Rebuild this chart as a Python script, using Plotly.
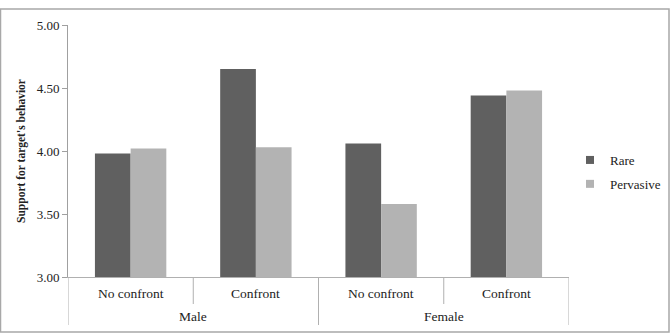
import plotly.graph_objects as go

genders = ["Male", "Male", "Female", "Female"]
conditions = ["No confront", "Confront", "No confront", "Confront"]
rare = [3.98, 4.65, 4.06, 4.44]
pervasive = [4.02, 4.03, 3.58, 4.48]
yticks = [3.0, 3.5, 4.0, 4.5, 5.0]
series_names = ["Rare", "Pervasive"]
series_colors = ["#606060", "#b3b3b3"]

font = "Liberation Serif"
txt = "#222222"
L, R, T, B = 68, 103, 25, 58
W, H = 672, 335
PW, PH = W - L - R, H - T - B

def py(pix):
    # convert a pixel row (from top of page) into paper y
    return (H - B - pix) / PH

fig = go.Figure()
for name, vals, col in zip(series_names, [rare, pervasive], series_colors):
    fig.add_trace(go.Bar(name=name, x=[genders, conditions], y=vals, showlegend=False,
                         marker=dict(color=col, line=dict(width=0))))
for name, col in zip(series_names, series_colors):
    fig.add_trace(go.Scatter(name=name, x=[genders[:1], conditions[:1]], y=[None],
                             mode="markers", legendgroup=name,
                             marker=dict(symbol="square", size=8, color=col)))

fig.update_layout(
    width=W, height=H,
    margin=dict(l=L, r=R, t=T, b=B, autoexpand=False),
    paper_bgcolor="white", plot_bgcolor="white",
    barmode="group", bargap=0.43, bargroupgap=0,
    font=dict(family=font, size=13, color=txt),
    showlegend=True,
    legend=dict(xref="container", yref="container", x=570 / W, y=1 - 145 / H,
                xanchor="left", yanchor="top",
                font=dict(family=font, size=13, color=txt),
                itemwidth=30, tracegroupgap=4),
    xaxis=dict(type="multicategory", range=[-0.5, len(conditions) - 0.5],
               showline=True, linecolor="#b0b0b0", linewidth=1,
               showdividers=False, showticklabels=False, ticks=""),
    yaxis=dict(range=[3.0, 5.0], tickvals=yticks, tickformat=".2f",
               showline=True, linecolor="#a0a0a0", linewidth=1,
               ticks="outside", ticklen=5, tickcolor="#a0a0a0",
               showgrid=False, zeroline=False,
               tickfont=dict(family=font, size=13, color=txt),
               title=dict(text="<b>Support for target's behavior</b>",
                          font=dict(family=font, size=11.5, color=txt), standoff=8)),
)

# category labels (inner level) and group labels (outer level)
for i, c in enumerate(conditions):
    fig.add_annotation(x=i, xref="x", y=py(293), yref="paper", text=c, showarrow=False,
                       font=dict(family=font, size=13.5, color=txt), yanchor="middle")
groups = []
for i, g in enumerate(genders):
    if g not in [gg for gg, _ in groups]:
        groups.append((g, [i]))
    else:
        groups[[gg for gg, _ in groups].index(g)][1].append(i)
for g, idx in groups:
    fig.add_annotation(x=(idx[0] + idx[-1]) / 2, xref="x", y=py(317), yref="paper", text=g,
                       showarrow=False, font=dict(family=font, size=13.5, color=txt),
                       yanchor="middle")

# dividers
div = dict(color="#b0b0b0", width=1)
for i in range(len(conditions) + 1):
    xpos = i - 0.5
    outer = i == 0 or i == len(conditions) or genders[i] != genders[i - 1]
    fig.add_shape(type="line", xref="x", yref="paper", x0=xpos, x1=xpos,
                  y0=0, y1=py(325 if outer else 304), line=div)

# outer chart border
fig.add_shape(type="rect", xref="paper", yref="paper",
              x0=(0.5 - L) / PW, x1=(669 - L) / PW, y0=py(332), y1=py(9),
              line=dict(color="#a8a8a8", width=1.5), fillcolor="rgba(0,0,0,0)", layer="below")
fig.write_html("out.html")
